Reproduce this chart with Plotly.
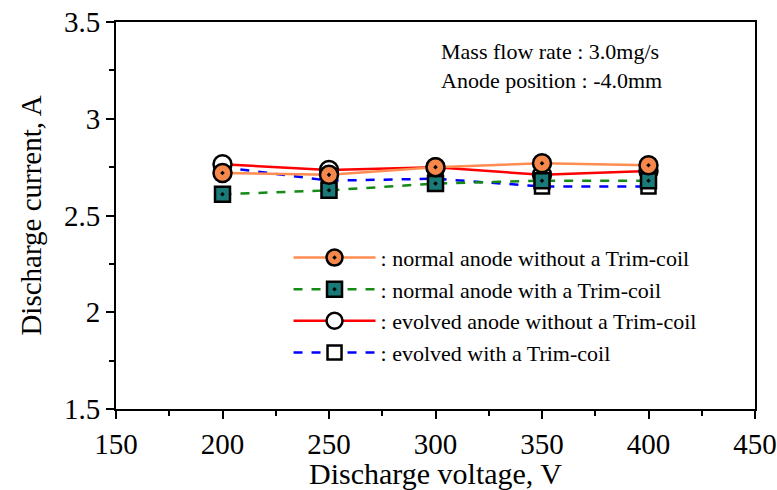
import plotly.graph_objects as go

voltage = [200, 250, 300, 350, 400]
normal_without = [2.72, 2.71, 2.75, 2.77, 2.76]
normal_with = [2.61, 2.63, 2.665, 2.68, 2.68]
evolved_without = [2.765, 2.735, 2.75, 2.71, 2.73]
evolved_with = [2.75, 2.68, 2.69, 2.65, 2.65]

names = [
    ": normal anode without a Trim-coil",
    ": normal anode with a Trim-coil",
    ": evolved anode without a Trim-coil",
    ": evolved with a Trim-coil",
]

FONT = "Liberation Serif"

fig = go.Figure()
# draw order: evolved first, normal on top
fig.add_trace(go.Scatter(
    x=voltage, y=evolved_with, name=names[3], legendrank=4, mode="lines+markers",
    line=dict(color="#0000FF", width=2.5, dash="dash"),
    marker=dict(symbol="square", size=14, color="white", line=dict(color="black", width=2.5)),
))
fig.add_trace(go.Scatter(
    x=voltage, y=evolved_without, name=names[2], legendrank=3, mode="lines+markers",
    line=dict(color="#FF0000", width=2.5),
    marker=dict(symbol="circle", size=18, color="white", line=dict(color="black", width=2.5)),
))
fig.add_trace(go.Scatter(
    x=voltage, y=normal_with, name=names[1], legendrank=2, mode="lines+markers",
    line=dict(color="#158A15", width=2.5, dash="dash"),
    marker=dict(symbol="square-dot", size=15, color="#1A7A78", line=dict(color="black", width=2.5)),
))
fig.add_trace(go.Scatter(
    x=voltage, y=normal_without, name=names[0], legendrank=1, mode="lines+markers",
    line=dict(color="#FF8C50", width=2.5),
    marker=dict(symbol="circle-dot", size=18, color="#F5884A", line=dict(color="black", width=2.5)),
))

fig.add_annotation(
    x=0.505, y=0.96, xref="paper", yref="paper", xanchor="left", yanchor="top",
    text="Mass flow rate : 3.0mg/s<br>Anode position : -4.0mm", showarrow=False, align="left",
    font=dict(family=FONT, size=22, color="black"),
)

axis_common = dict(
    showline=True, linecolor="black", linewidth=2, mirror=True, showgrid=False, zeroline=False,
    ticks="outside", ticklen=8, tickwidth=2, tickcolor="black", automargin=False,
    tickfont=dict(family=FONT, size=29, color="black"),
)
fig.update_xaxes(
    range=[150, 450], dtick=50, tick0=150,
    minor=dict(ticks="outside", ticklen=5, tickwidth=2, tickcolor="black", dtick=25, tick0=150),
    title=dict(text="Discharge voltage, V", font=dict(family=FONT, size=30, color="black"), standoff=8),
    **axis_common,
)
fig.update_yaxes(
    range=[1.5, 3.5], dtick=0.5, tick0=1.5,
    minor=dict(ticks="outside", ticklen=5, tickwidth=2, tickcolor="black", dtick=0.25, tick0=1.5),
    title=dict(text="Discharge current, A", font=dict(family=FONT, size=29, color="black"), standoff=14),
    **axis_common,
)
fig.update_layout(
    width=777, height=490, margin=dict(l=116, r=22, t=22, b=81),
    paper_bgcolor="white", plot_bgcolor="white",
    legend=dict(x=0.27, y=0.445, xanchor="left", yanchor="top", bgcolor="rgba(0,0,0,0)",
                font=dict(family=FONT, size=22, color="black"),
                itemwidth=82, tracegroupgap=0, traceorder="normal"),
)
fig.write_html("out.html")
